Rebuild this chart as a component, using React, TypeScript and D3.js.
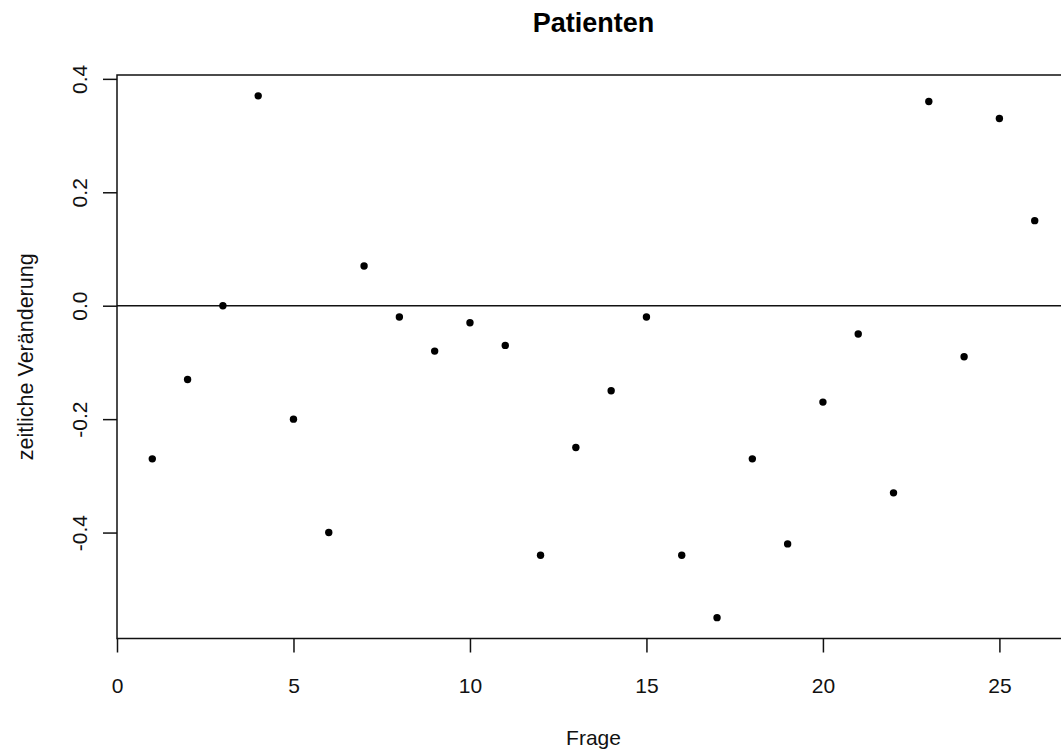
import { axisBottom, axisLeft, extent, scaleLinear, select } from "d3";
import { useEffect, useRef } from "react";

const questions = [
  1, 2, 3, 4, 5, 6, 7, 8, 9, 10, 11, 12, 13, 14, 15, 16, 17, 18, 19, 20, 21, 22, 23, 24, 25, 26,
];
const changes = [
  -0.27, -0.13, 0.0, 0.37, -0.2, -0.4, 0.07, -0.02, -0.08, -0.03, -0.07, -0.44, -0.25, -0.15,
  -0.02, -0.44, -0.55, -0.27, -0.42, -0.17, -0.05, -0.33, 0.36, -0.09, 0.33, 0.15,
];
const xTicks = [0, 5, 10, 15, 20, 25];
const yTicks = [-0.4, -0.2, 0.0, 0.2, 0.4];

const WIDTH = 1061;
const HEIGHT = 753;
const FONT = "'Liberation Sans', Arial, Helvetica, sans-serif";
const INK = "#111";

// R-style 4% axis padding
function padded([lo, hi]: [number, number]): [number, number] {
  const d = (hi - lo) * 0.04;
  return [lo - d, hi + d];
}

export default function App() {
  const svgRef = useRef<SVGSVGElement | null>(null);

  useEffect(() => {
    if (!svgRef.current) return;
    const svg = select(svgRef.current);
    svg.selectAll("*").remove();

    const plot = { left: 117, top: 75, right: 1070, bottom: 638.5 };
    const x = scaleLinear()
      .domain(padded(extent(questions) as [number, number]))
      .range([plot.left, plot.right]);
    const y = scaleLinear()
      .domain(padded(extent(changes) as [number, number]))
      .range([plot.bottom, plot.top]);

    svg.append("rect").attr("width", WIDTH).attr("height", HEIGHT).attr("fill", "#fff");

    // zero reference line
    svg
      .append("line")
      .attr("x1", plot.left)
      .attr("x2", plot.right)
      .attr("y1", y(0))
      .attr("y2", y(0))
      .attr("stroke", INK)
      .attr("stroke-width", 1.5);

    // plot box
    svg
      .append("rect")
      .attr("x", plot.left)
      .attr("y", plot.top)
      .attr("width", plot.right - plot.left)
      .attr("height", plot.bottom - plot.top)
      .attr("fill", "none")
      .attr("stroke", INK)
      .attr("stroke-width", 1.5);

    const xAxis = axisBottom(x)
      .tickValues(xTicks)
      .tickSize(14)
      .tickFormat((d) => `${d}`);
    const gx = svg.append("g").attr("transform", `translate(0,${plot.bottom})`).call(xAxis);
    gx.select(".domain").remove();
    gx.selectAll("line").attr("stroke", INK).attr("stroke-width", 1.5);
    gx.selectAll("text")
      .attr("y", 0)
      .attr("dy", 0)
      .attr("transform", "translate(0,54.5)")
      .attr("fill", INK)
      .style("font-family", FONT)
      .style("font-size", "21px");

    const yAxis = axisLeft(y)
      .tickValues(yTicks)
      .tickSize(14)
      .tickFormat((d) => (d as number).toFixed(1));
    const gy = svg.append("g").attr("transform", `translate(${plot.left},0)`).call(yAxis);
    gy.select(".domain").remove();
    gy.selectAll("line").attr("stroke", INK).attr("stroke-width", 1.5);
    gy.selectAll("text")
      .attr("x", 0)
      .attr("dy", 0)
      .attr("transform", "translate(-30,0) rotate(-90)")
      .attr("text-anchor", "middle")
      .attr("fill", INK)
      .style("font-family", FONT)
      .style("font-size", "21px");

    svg
      .append("g")
      .selectAll("circle")
      .data(questions)
      .join("circle")
      .attr("cx", (q) => x(q))
      .attr("cy", (_, i) => y(changes[i]))
      .attr("r", 3.7)
      .attr("fill", "#000");

    const midX = (plot.left + plot.right) / 2;
    svg
      .append("text")
      .attr("x", midX)
      .attr("y", 32)
      .attr("text-anchor", "middle")
      .attr("fill", "#000")
      .style("font-family", FONT)
      .style("font-weight", "bold")
      .style("font-size", "27px")
      .text("Patienten");

    svg
      .append("text")
      .attr("x", midX)
      .attr("y", 745)
      .attr("text-anchor", "middle")
      .attr("fill", INK)
      .style("font-family", FONT)
      .style("font-size", "21px")
      .text("Frage");

    svg
      .append("text")
      .attr("transform", `translate(33,${(plot.top + plot.bottom) / 2}) rotate(-90)`)
      .attr("text-anchor", "middle")
      .attr("fill", INK)
      .style("font-family", FONT)
      .style("font-size", "21.5px")
      .text("zeitliche Veränderung");
  }, []);

  return (
    <div style={{ position: "absolute", left: 0, top: 0 }}>
      <svg
        ref={svgRef}
        width={WIDTH}
        height={HEIGHT}
        style={{ display: "block" }}
        role="img"
        aria-label="Patienten scatter plot"
      />
    </div>
  );
}
